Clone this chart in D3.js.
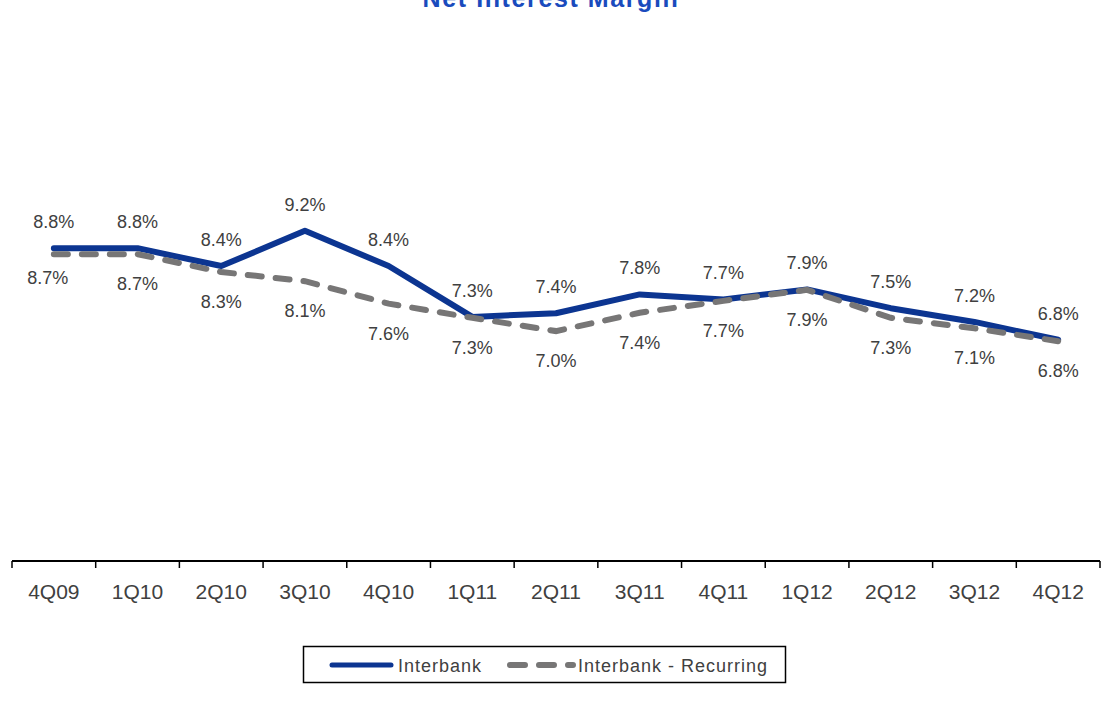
<!DOCTYPE html>
<html>
<head>
<meta charset="utf-8">
<script src="https://cdn.jsdelivr.net/npm/d3@7"></script>
<style>
  body { margin: 0; background: #fff; }
  svg { display: block; }
</style>
</head>
<body>
<script>
// quarters and NIM values (percent)
const quarters = ["4Q09", "1Q10", "2Q10", "3Q10", "4Q10", "1Q11", "2Q11", "3Q11", "4Q11", "1Q12", "2Q12", "3Q12", "4Q12"];
const interbank = [8.83, 8.83, 8.44, 9.21, 8.44, 7.33, 7.41, 7.82, 7.71, 7.93, 7.52, 7.22, 6.83];
const recurring = [8.70, 8.70, 8.31, 8.11, 7.62, 7.31, 7.02, 7.42, 7.68, 7.92, 7.31, 7.08, 6.80];
const seriesNames = ["Interbank", "Interbank - Recurring"];

let width = 1111,
  height = 727;

let blue = "#0c3591",
  grey = "#777676",
  textCol = "#404040";

let svg = d3.select("body").append("svg")
  .attr("width", width)
  .attr("height", height)
  .style("font-family", "'Liberation Sans', Arial, sans-serif");

// title (cut off at the top like the original)
svg.append("text")
  .attr("x", 551)
  .attr("y", 7)
  .attr("text-anchor", "middle")
  .attr("fill", "#1a4bbd")
  .attr("font-size", 25)
  .attr("font-weight", "bold")
  .attr("letter-spacing", 1.6)
  .text("Net Interest Margin");

let x = d3.scaleBand()
  .domain(quarters)
  .range([12, 1100]);

let y = d3.scaleLinear()
  .domain([2, 12])
  .range([561, 103]);

// x axis
let axisG = svg.append("g")
  .attr("transform", "translate(0,561)");

axisG.append("line")
  .attr("x1", 12).attr("x2", 1100)
  .attr("stroke", "#000").attr("stroke-width", 2);

axisG.selectAll("line.tick")
  .data(d3.range(quarters.length + 1))
  .enter().append("line")
  .attr("class", "tick")
  .attr("x1", i => x.range()[0] + i * x.step())
  .attr("x2", i => x.range()[0] + i * x.step())
  .attr("y1", 0).attr("y2", 7)
  .attr("stroke", "#000").attr("stroke-width", 1.5);

axisG.selectAll("text")
  .data(quarters)
  .enter().append("text")
  .attr("x", d => x(d) + x.bandwidth() / 2)
  .attr("y", 38)
  .attr("text-anchor", "middle")
  .attr("font-size", 21)
  .attr("fill", textCol)
  .text(d => d);

let cx = (d, i) => x(quarters[i]) + x.bandwidth() / 2;

let line = d3.line()
  .x(cx)
  .y(d => y(d));

svg.append("path")
  .datum(interbank)
  .attr("d", line)
  .attr("fill", "none")
  .attr("stroke", blue)
  .attr("stroke-width", 6)
  .attr("stroke-linejoin", "round")
  .attr("stroke-linecap", "round");

svg.append("path")
  .datum(recurring)
  .attr("d", line)
  .attr("fill", "none")
  .attr("stroke", grey)
  .attr("stroke-width", 6)
  .attr("stroke-dasharray", "14,14")
  .attr("stroke-linecap", "round");

// data labels
let fmt = v => v.toFixed(1) + "%";

svg.append("g").selectAll("text")
  .data(interbank)
  .enter().append("text")
  .attr("x", cx)
  .attr("y", d => y(d) - 20)
  .attr("text-anchor", "middle")
  .attr("font-size", 18)
  .attr("fill", textCol)
  .text(fmt);

svg.append("g").selectAll("text")
  .data(recurring)
  .enter().append("text")
  .attr("x", (d, i) => cx(d, i) - (i === 0 ? 6 : 0))
  .attr("y", (d, i) => y(d) + (i === 0 ? 30 : 36))
  .attr("text-anchor", "middle")
  .attr("font-size", 18)
  .attr("fill", textCol)
  .text(fmt);

// legend
let legend = svg.append("g");

legend.append("rect")
  .attr("x", 303.5).attr("y", 646.5)
  .attr("width", 482).attr("height", 36)
  .attr("fill", "#fff")
  .attr("stroke", "#000").attr("stroke-width", 1.5);

legend.append("line")
  .attr("x1", 332).attr("x2", 391)
  .attr("y1", 665).attr("y2", 665)
  .attr("stroke", blue).attr("stroke-width", 5)
  .attr("stroke-linecap", "round");

legend.append("line")
  .attr("x1", 510).attr("x2", 573)
  .attr("y1", 665).attr("y2", 665)
  .attr("stroke", grey).attr("stroke-width", 6)
  .attr("stroke-dasharray", "15,14")
  .attr("stroke-linecap", "round");

legend.selectAll("text")
  .data(seriesNames)
  .enter().append("text")
  .attr("x", (d, i) => i === 0 ? 398 : 578)
  .attr("y", 672)
  .attr("font-size", 18)
  .attr("letter-spacing", 1)
  .attr("fill", textCol)
  .text(d => d);
</script>
</body>
</html>
